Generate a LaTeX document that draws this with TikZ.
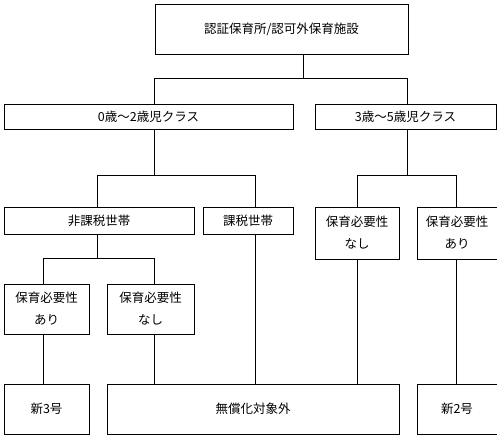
\documentclass[tikz,border=0pt]{standalone}
\usepackage{fontspec}
\newfontfamily\jpfont{Noto Sans CJK JP}
\begin{document}
\begin{tikzpicture}[x=1pt,y=-1pt,
  box/.style={draw, line width=1pt, anchor=north west, inner sep=0pt, align=center,
    font=\jpfont\fontsize{12.5}{22}\selectfont},
  conn/.style={line width=1pt}]
\useasboundingbox (0,0) rectangle (497,434);
% boxes
\node[box, minimum width=253pt, minimum height=50pt] (top) at (154.5,3.5) {認証保育所/認可外保育施設};
\node[box, minimum width=289pt, minimum height=25pt] (c02) at (3.5,103.5) {0歳～2歳児クラス};
\node[box, minimum width=181pt, minimum height=25pt] (c35) at (314.5,103.5) {3歳～5歳児クラス};
\node[box, minimum width=190pt, minimum height=27pt] (hika) at (3.5,206.5) {非課税世帯};
\node[box, minimum width=90pt, minimum height=27pt] (ka) at (202.5,206.5) {課税世帯};
\node[box, minimum width=84pt, minimum height=52pt] (n35) at (314.5,206.5) {保育必要性\\なし};
\node[box, minimum width=80pt, minimum height=52pt] (a35) at (416.5,206.5) {保育必要性\\あり};
\node[box, minimum width=85pt, minimum height=50pt] (a02) at (3.5,283.5) {保育必要性\\あり};
\node[box, minimum width=87pt, minimum height=50pt] (n02) at (106.5,283.5) {保育必要性\\なし};
\node[box, minimum width=85pt, minimum height=50pt] (s3) at (3.5,383.5) {新3号};
\node[box, minimum width=292pt, minimum height=50pt] (mu) at (106.5,383.5) {無償化対象外};
\node[box, minimum width=80pt, minimum height=50pt] (s2) at (416.5,383.5) {新2号};
% junction coordinates
\coordinate (j0) at (303.5,78.5);
\coordinate (ja) at (154.5,78.5);
\coordinate (jb) at (407.5,78.5);
\coordinate (k0) at (154.5,175.5);
\coordinate (ka1) at (97.5,175.5);
\coordinate (kb1) at (255.5,175.5);
\coordinate (m0) at (407.5,175.5);
\coordinate (ma) at (357.5,175.5);
\coordinate (mb) at (456.5,175.5);
\coordinate (h0) at (97.5,258.5);
\coordinate (ha) at (43.5,258.5);
\coordinate (hb) at (154.5,258.5);
% connectors
\draw[conn] (top.south -| j0) -- (j0);
\draw[conn] (c02.north -| ja) -- (ja) -- (jb) -- (c35.north -| jb);
\draw[conn] (c02.south -| k0) -- (k0);
\draw[conn] (hika.north -| ka1) -- (ka1) -- (kb1) -- (ka.north -| kb1);
\draw[conn] (c35.south -| m0) -- (m0);
\draw[conn] (n35.north -| ma) -- (ma) -- (mb) -- (a35.north -| mb);
\draw[conn] (hika.south -| h0) -- (h0);
\draw[conn] (a02.north -| ha) -- (ha) -- (hb) -- (n02.north -| hb);
\draw[conn] (a02.south -| ha) -- (s3.north -| ha);
\draw[conn] (n02.south -| hb) -- (mu.north -| hb);
\draw[conn] (ka.south -| kb1) -- (mu.north -| kb1);
\draw[conn] (n35.south -| ma) -- (mu.north -| ma);
\draw[conn] (a35.south -| mb) -- (s2.north -| mb);
\end{tikzpicture}
\end{document}
